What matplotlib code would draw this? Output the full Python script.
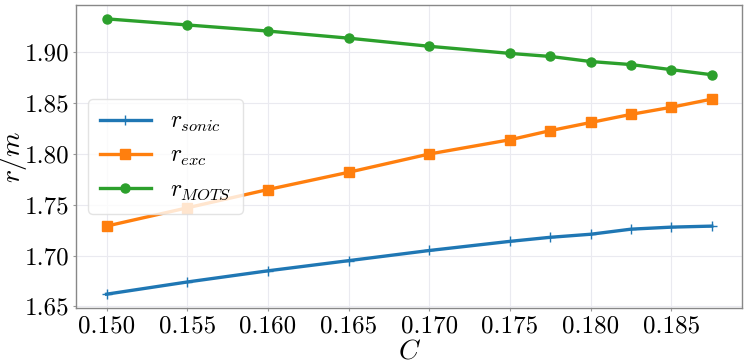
import matplotlib
matplotlib.use("Agg")
import matplotlib.pyplot as plt

# ---- data ----
C = [0.150, 0.155, 0.160, 0.165, 0.170, 0.175, 0.1775, 0.180, 0.1825, 0.185, 0.1875]
r_sonic = [1.662, 1.674, 1.685, 1.695, 1.705, 1.714, 1.718, 1.721, 1.726, 1.728, 1.729]
r_exc = [1.729, 1.747, 1.765, 1.782, 1.800, 1.814, 1.823, 1.831, 1.839, 1.846, 1.854]
r_mots = [1.933, 1.927, 1.921, 1.914, 1.906, 1.899, 1.896, 1.891, 1.888, 1.883, 1.878]

x_ticks = [0.150, 0.155, 0.160, 0.165, 0.170, 0.175, 0.180, 0.185]
y_ticks = [1.65, 1.70, 1.75, 1.80, 1.85, 1.90]

plt.rcParams['mathtext.fontset'] = 'cm'
plt.rcParams['font.family'] = 'serif'
plt.rcParams['font.serif'] = ['cmr10', 'DejaVu Serif']
plt.rcParams['axes.formatter.use_mathtext'] = True

fig, ax = plt.subplots(figsize=(7.48, 3.64), dpi=100)
fig.subplots_adjust(left=0.102, right=0.992, top=0.986, bottom=0.154)

ax.plot(C, r_sonic, color='#1f77b4', lw=2.4, marker='+', ms=7, mew=1.0, label=r'$r_{sonic}$')
ax.plot(C, r_exc, color='#ff7f0e', lw=2.4, marker='s', ms=6.5, label=r'$r_{exc}$')
ax.plot(C, r_mots, color='#2ca02c', lw=2.4, marker='o', ms=6.5, label=r'$r_{MOTS}$')

ax.set_xticks(x_ticks)
ax.set_xticklabels([f'{v:.3f}' for v in x_ticks])
ax.set_yticks(y_ticks)
ax.set_yticklabels([f'{v:.2f}' for v in y_ticks])
ax.tick_params(axis='both', length=2, width=0.8, color='#999999',
               labelsize=18, pad=3)

ax.set_xlabel(r'$C$', fontsize=20)
ax.xaxis.set_label_coords(0.5, -0.10)
ax.set_ylabel(r'$r/m$', fontsize=20)
ax.yaxis.set_label_coords(-0.071, 0.5)

ax.grid(True, color='#eaeaf0', lw=0.8)
ax.set_axisbelow(True)
for s in ax.spines.values():
    s.set_color('#888888')
    s.set_linewidth(1.0)

ax.legend(loc='center left', bbox_to_anchor=(0.0, 0.5), fontsize=17,
          framealpha=0.8, edgecolor='#dddddd', fancybox=True,
          handlelength=2.15, labelspacing=0.45, borderpad=0.5)

fig.savefig('out.png', dpi=100)
